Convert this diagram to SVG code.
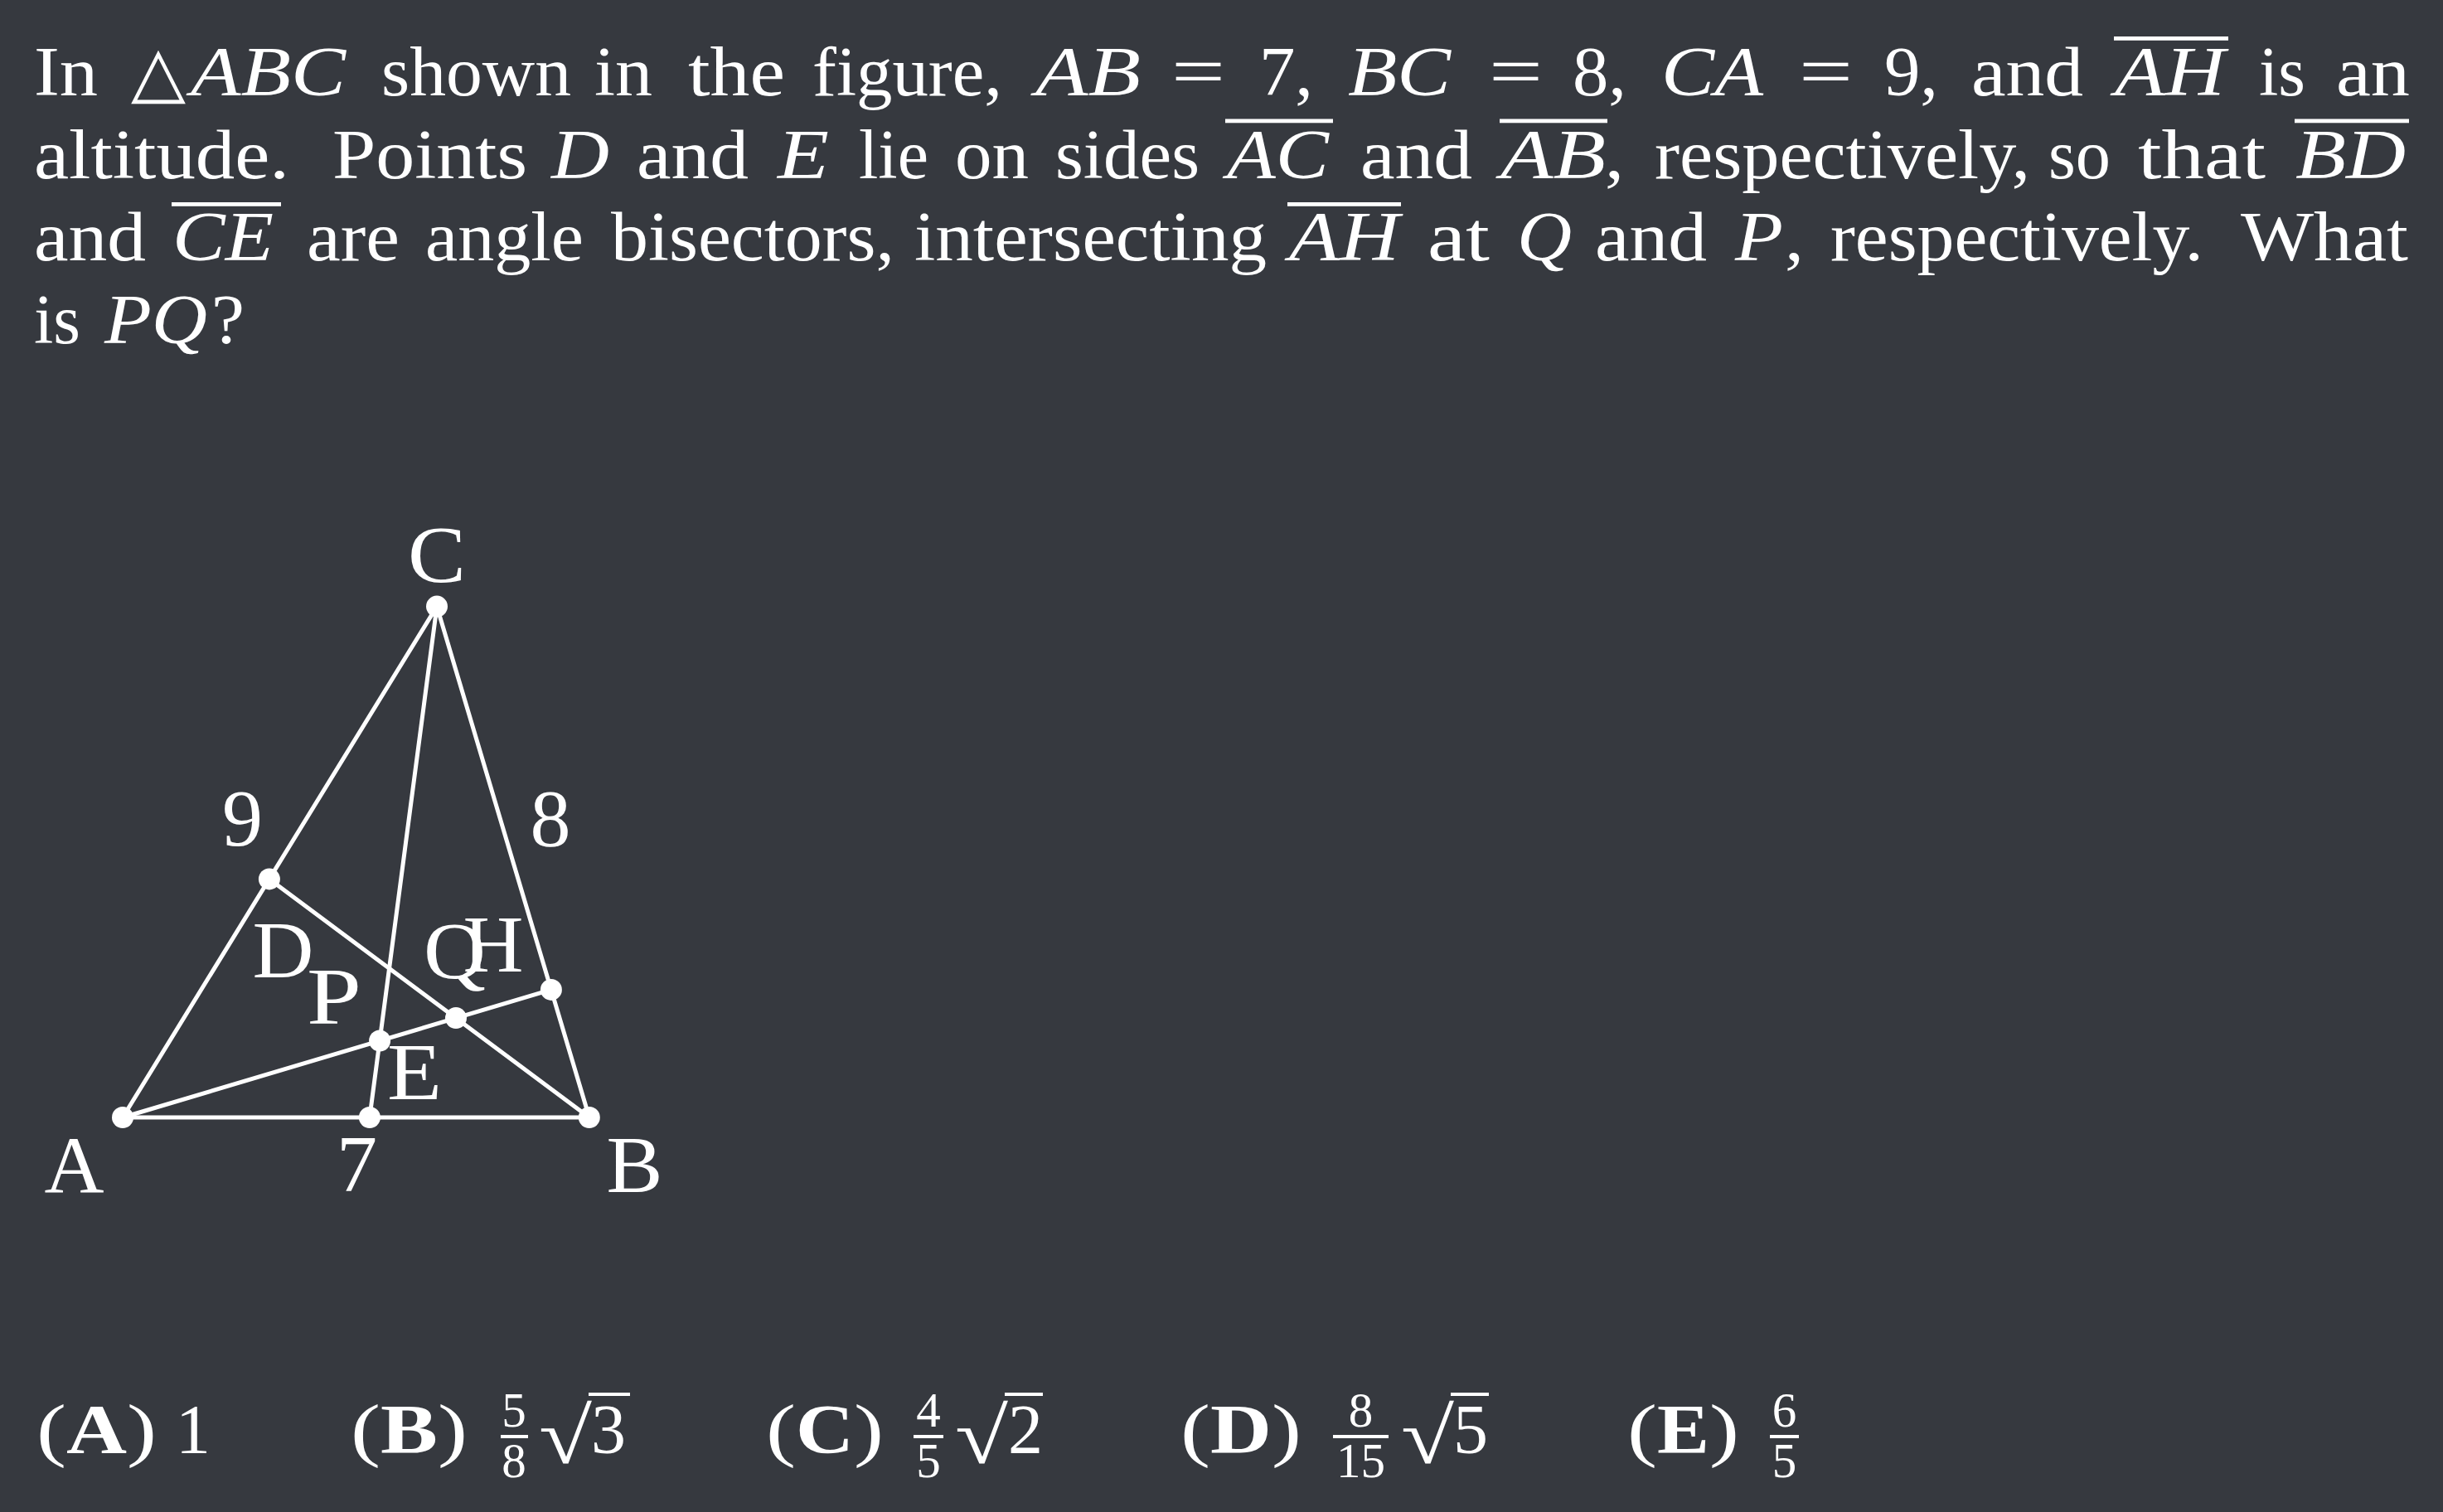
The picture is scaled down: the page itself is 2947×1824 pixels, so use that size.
<svg xmlns="http://www.w3.org/2000/svg" width="2947" height="1824" viewBox="0 0 2947 1824">
<style>
.t{font-family:"Liberation Serif",serif;font-size:84px;fill:#fff}
.i{font-style:italic}
.b{font-weight:bold}
.s{font-family:"Liberation Serif",serif;font-size:59px;fill:#fff}
.lb{font-family:"Liberation Serif",serif;font-size:98px;fill:#fff;text-anchor:middle}
.ov{fill:#fff}
.ln{stroke:#fff;stroke-width:5;stroke-linecap:round;fill:none}
.dot{fill:#fff}
</style>
<rect width="2947" height="1824" fill="#36393f"/>
<g id="question">
<text class="t" x="41" y="115" textLength="77" lengthAdjust="spacingAndGlyphs">In</text>
<text x="158" y="115" style="font-family:'DejaVu Sans',sans-serif;font-size:84px;fill:#fff" textLength="66" lengthAdjust="spacingAndGlyphs">△</text>
<text class="t i" x="230" y="115" textLength="187" lengthAdjust="spacingAndGlyphs">ABC</text>
<text class="t" x="460" y="115" textLength="229" lengthAdjust="spacingAndGlyphs">shown</text>
<text class="t" x="717" y="115" textLength="70" lengthAdjust="spacingAndGlyphs">in</text>
<text class="t" x="830" y="115" textLength="117" lengthAdjust="spacingAndGlyphs">the</text>
<text class="t" x="980" y="115" textLength="229" lengthAdjust="spacingAndGlyphs">figure,</text>
<text class="t i" x="1249" y="115" textLength="127" lengthAdjust="spacingAndGlyphs">AB</text>
<text class="t" x="1413" y="115" textLength="65" lengthAdjust="spacingAndGlyphs">=</text>
<text class="t" x="1519" y="115" textLength="65" lengthAdjust="spacingAndGlyphs">7,</text>
<text class="t i" x="1626" y="115" textLength="124" lengthAdjust="spacingAndGlyphs">BC</text>
<text class="t" x="1796" y="115" textLength="65" lengthAdjust="spacingAndGlyphs">=</text>
<text class="t" x="1897" y="115" textLength="65" lengthAdjust="spacingAndGlyphs">8,</text>
<text class="t i" x="2004" y="115" textLength="123" lengthAdjust="spacingAndGlyphs">CA</text>
<text class="t" x="2170" y="115" textLength="65" lengthAdjust="spacingAndGlyphs">=</text>
<text class="t" x="2273" y="115" textLength="65" lengthAdjust="spacingAndGlyphs">9,</text>
<text class="t" x="2378" y="115" textLength="135" lengthAdjust="spacingAndGlyphs">and</text>
<text class="t i" x="2551" y="115" textLength="133" lengthAdjust="spacingAndGlyphs">AH</text>
<rect class="ov" x="2550" y="44" width="138" height="4.8"/>
<text class="t" x="2725" y="115" textLength="56" lengthAdjust="spacingAndGlyphs">is</text>
<text class="t" x="2818" y="115" textLength="89" lengthAdjust="spacingAndGlyphs">an</text>

<text class="t" x="41" y="215" textLength="308" lengthAdjust="spacingAndGlyphs">altitude.</text>
<text class="t" x="401" y="215" textLength="235" lengthAdjust="spacingAndGlyphs">Points</text>
<text class="t i" x="665" y="215" textLength="70" lengthAdjust="spacingAndGlyphs">D</text>
<text class="t" x="768" y="215" textLength="135" lengthAdjust="spacingAndGlyphs">and</text>
<text class="t i" x="938" y="215" textLength="62" lengthAdjust="spacingAndGlyphs">E</text>
<text class="t" x="1036" y="215" textLength="84" lengthAdjust="spacingAndGlyphs">lie</text>
<text class="t" x="1152" y="215" textLength="89" lengthAdjust="spacingAndGlyphs">on</text>
<text class="t" x="1273" y="215" textLength="174" lengthAdjust="spacingAndGlyphs">sides</text>
<text class="t i" x="1480" y="215" textLength="123" lengthAdjust="spacingAndGlyphs">AC</text>
<rect class="ov" x="1478" y="143.5" width="130" height="4.8"/>
<text class="t" x="1641" y="215" textLength="135" lengthAdjust="spacingAndGlyphs">and</text>
<text class="t i" x="1810" y="215" textLength="127" lengthAdjust="spacingAndGlyphs">AB</text>
<rect class="ov" x="1809" y="143.5" width="130" height="4.8"/>
<text class="t" x="1936" y="215" textLength="23" lengthAdjust="spacingAndGlyphs">,</text>
<text class="t" x="1996" y="215" textLength="453" lengthAdjust="spacingAndGlyphs">respectively,</text>
<text class="t" x="2471" y="215" textLength="75" lengthAdjust="spacingAndGlyphs">so</text>
<text class="t" x="2579" y="215" textLength="154" lengthAdjust="spacingAndGlyphs">that</text>
<text class="t i" x="2769" y="215" textLength="133" lengthAdjust="spacingAndGlyphs">BD</text>
<rect class="ov" x="2768" y="143.5" width="138" height="4.8"/>

<text class="t" x="41" y="314" textLength="135" lengthAdjust="spacingAndGlyphs">and</text>
<text class="t i" x="208" y="314" textLength="122" lengthAdjust="spacingAndGlyphs">CE</text>
<rect class="ov" x="207" y="244" width="132" height="4.8"/>
<text class="t" x="370" y="314" textLength="112" lengthAdjust="spacingAndGlyphs">are</text>
<text class="t" x="513" y="314" textLength="191" lengthAdjust="spacingAndGlyphs">angle</text>
<text class="t" x="737" y="314" textLength="342" lengthAdjust="spacingAndGlyphs">bisectors,</text>
<text class="t" x="1103" y="314" textLength="425" lengthAdjust="spacingAndGlyphs">intersecting</text>
<text class="t i" x="1555" y="314" textLength="133" lengthAdjust="spacingAndGlyphs">AH</text>
<rect class="ov" x="1553" y="244" width="137" height="4.8"/>
<text class="t" x="1722" y="314" textLength="75" lengthAdjust="spacingAndGlyphs">at</text>
<text class="t i" x="1830" y="314" textLength="66" lengthAdjust="spacingAndGlyphs">Q</text>
<text class="t" x="1924" y="314" textLength="135" lengthAdjust="spacingAndGlyphs">and</text>
<text class="t i" x="2093" y="314" textLength="58" lengthAdjust="spacingAndGlyphs">P</text>
<text class="t" x="2153" y="314" textLength="23" lengthAdjust="spacingAndGlyphs">,</text>
<text class="t" x="2208" y="314" textLength="450" lengthAdjust="spacingAndGlyphs">respectively.</text>
<text class="t" x="2703" y="314" textLength="202" lengthAdjust="spacingAndGlyphs">What</text>

<text class="t" x="41" y="414" textLength="56" lengthAdjust="spacingAndGlyphs">is</text>
<text class="t i" x="126" y="414" textLength="124" lengthAdjust="spacingAndGlyphs">PQ</text>
<text class="t" x="255" y="414" textLength="40" lengthAdjust="spacingAndGlyphs">?</text>
</g>

<g id="connectors">
<line class="ln" x1="148" y1="1348" x2="710.8" y2="1348"/>
<line class="ln" x1="710.8" y1="1348" x2="527" y2="731.6"/>
<line class="ln" x1="527" y1="731.6" x2="148" y2="1348"/>
<line class="ln" x1="527" y1="731.6" x2="445.9" y2="1348"/>
<line class="ln" x1="710.8" y1="1348" x2="324.9" y2="1060.4"/>
<line class="ln" x1="148" y1="1348" x2="664.9" y2="1193.9"/>
</g>

<g id="node-A"><circle class="dot" cx="148" cy="1348" r="13"/><text class="lb" x="89.5" y="1437.5" textLength="72" lengthAdjust="spacingAndGlyphs">A</text></g>
<g id="node-B"><circle class="dot" cx="710.8" cy="1348" r="13"/><text class="lb" x="765.5" y="1437.5" textLength="68" lengthAdjust="spacingAndGlyphs">B</text></g>
<g id="node-C"><circle class="dot" cx="527" cy="731.6" r="13"/><text class="lb" x="527" y="702" textLength="70" lengthAdjust="spacingAndGlyphs">C</text></g>
<g id="node-D"><circle class="dot" cx="324.9" cy="1060.4" r="13"/><text class="lb" x="341.5" y="1178.6" textLength="74" lengthAdjust="spacingAndGlyphs">D</text></g>
<g id="node-E"><circle class="dot" cx="445.9" cy="1348" r="13"/><text class="lb" x="500" y="1326" textLength="66" lengthAdjust="spacingAndGlyphs">E</text></g>
<g id="node-H"><circle class="dot" cx="664.9" cy="1193.9" r="13"/><text class="lb" x="595" y="1172" textLength="73" lengthAdjust="spacingAndGlyphs">H</text></g>
<g id="node-P"><circle class="dot" cx="458.1" cy="1255.5" r="13"/><text class="lb" x="403" y="1234.5" textLength="66" lengthAdjust="spacingAndGlyphs">P</text></g>
<g id="node-Q"><circle class="dot" cx="550" cy="1228.1" r="13"/><text class="lb" x="548.5" y="1179.6" textLength="75" lengthAdjust="spacingAndGlyphs">Q</text></g>
<g id="side-labels">
<text class="lb" x="292.5" y="1020" textLength="49" lengthAdjust="spacingAndGlyphs">9</text>
<text class="lb" x="664" y="1020" textLength="49" lengthAdjust="spacingAndGlyphs">8</text>
<text class="lb" x="430.5" y="1437" textLength="49" lengthAdjust="spacingAndGlyphs">7</text>
</g>

<g id="choices">
<text class="t" x="44" y="1753" textLength="36" lengthAdjust="spacingAndGlyphs">(</text>
<text class="t b" x="80" y="1753" textLength="73" lengthAdjust="spacingAndGlyphs">A</text>
<text class="t" x="153" y="1753" textLength="36" lengthAdjust="spacingAndGlyphs">)</text>
<text class="t" x="212" y="1753" textLength="42" lengthAdjust="spacingAndGlyphs">1</text>

<text class="t" x="423" y="1753" textLength="36" lengthAdjust="spacingAndGlyphs">(</text>
<text class="t b" x="459" y="1753" textLength="69" lengthAdjust="spacingAndGlyphs">B</text>
<text class="t" x="528" y="1753" textLength="36" lengthAdjust="spacingAndGlyphs">)</text>
<text class="s" x="620" y="1721" text-anchor="middle">5</text>
<rect class="ov" x="604" y="1731" width="33" height="4"/>
<text class="s" x="620" y="1782" text-anchor="middle">8</text>
<text class="t" x="650" y="1765" style="font-size:95px" textLength="64" lengthAdjust="spacingAndGlyphs">√</text>
<rect class="ov" x="710" y="1680" width="50" height="4"/>
<text class="t" x="713" y="1753" textLength="42" lengthAdjust="spacingAndGlyphs">3</text>

<text class="t" x="924" y="1753" textLength="36" lengthAdjust="spacingAndGlyphs">(</text>
<text class="t b" x="960" y="1753" textLength="70" lengthAdjust="spacingAndGlyphs">C</text>
<text class="t" x="1030" y="1753" textLength="36" lengthAdjust="spacingAndGlyphs">)</text>
<text class="s" x="1120" y="1721" text-anchor="middle">4</text>
<rect class="ov" x="1102" y="1731" width="36" height="4"/>
<text class="s" x="1120" y="1782" text-anchor="middle">5</text>
<text class="t" x="1152" y="1765" style="font-size:95px" textLength="64" lengthAdjust="spacingAndGlyphs">√</text>
<rect class="ov" x="1212" y="1680" width="46" height="4"/>
<text class="t" x="1216" y="1753" textLength="42" lengthAdjust="spacingAndGlyphs">2</text>

<text class="t" x="1424" y="1753" textLength="36" lengthAdjust="spacingAndGlyphs">(</text>
<text class="t b" x="1460" y="1753" textLength="74" lengthAdjust="spacingAndGlyphs">D</text>
<text class="t" x="1534" y="1753" textLength="36" lengthAdjust="spacingAndGlyphs">)</text>
<text class="s" x="1641.5" y="1721" text-anchor="middle">8</text>
<rect class="ov" x="1608" y="1731" width="67" height="4"/>
<text class="s" x="1641.5" y="1782" text-anchor="middle">15</text>
<text class="t" x="1690" y="1765" style="font-size:95px" textLength="64" lengthAdjust="spacingAndGlyphs">√</text>
<rect class="ov" x="1750" y="1680" width="46" height="4"/>
<text class="t" x="1753" y="1753" textLength="42" lengthAdjust="spacingAndGlyphs">5</text>

<text class="t" x="1963" y="1753" textLength="36" lengthAdjust="spacingAndGlyphs">(</text>
<text class="t b" x="1999" y="1753" textLength="63" lengthAdjust="spacingAndGlyphs">E</text>
<text class="t" x="2062" y="1753" textLength="36" lengthAdjust="spacingAndGlyphs">)</text>
<text class="s" x="2152.5" y="1721" text-anchor="middle">6</text>
<rect class="ov" x="2135" y="1731" width="35" height="4"/>
<text class="s" x="2152.5" y="1782" text-anchor="middle">5</text>
</g>
</svg>
